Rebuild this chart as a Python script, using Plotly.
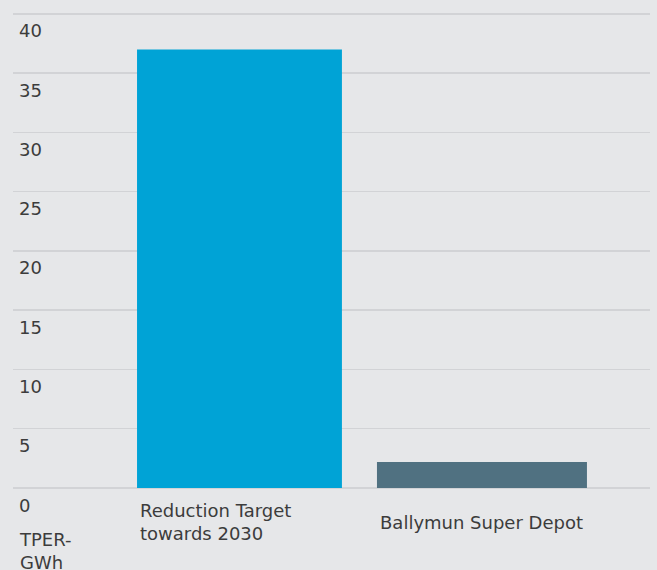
import plotly.graph_objects as go

categories = ["Reduction Target towards 2030", "Ballymun Super Depot"]
category_labels = ["Reduction Target<br>towards 2030", "Ballymun Super Depot"]
values = [37.0, 2.2]
bar_colors = ["#00a3d6", "#507181"]
y_ticks = [0, 5, 10, 15, 20, 25, 30, 35, 40]
y_title = "TPER-<br>GWh"

FONT = "DejaVu Sans"
TXT = "#3c3c3c"
BG = "#e6e7e9"
PX_PER_CAT = 242.5
bar_widths = [0.845, 0.866]

fig = go.Figure()
fig.add_trace(go.Bar(
    x=categories, y=values, marker=dict(color=bar_colors, line=dict(width=0)),
    width=bar_widths, hoverinfo="skip",
))

annotations = []
for t in y_ticks:
    annotations.append(dict(
        x=0, xref="paper", y=t, yref="y", text=str(t), showarrow=False,
        xanchor="left", yanchor="middle", xshift=4, yshift=-17,
        font=dict(family=FONT, size=18, color=TXT),
    ))
for c, lab, w in zip(categories, category_labels, bar_widths):
    annotations.append(dict(
        x=c, xref="x", y=0, yref="paper", text=lab, showarrow=False,
        xanchor="left", yanchor="middle", align="left",
        xshift=-w * PX_PER_CAT / 2 + 1, yshift=-34,
        font=dict(family=FONT, size=18, color=TXT),
    ))
annotations.append(dict(
    x=0, xref="paper", y=0, yref="paper", text=y_title, showarrow=False,
    xanchor="left", yanchor="middle", align="left", xshift=4, yshift=-63,
    font=dict(family=FONT, size=18, color=TXT),
))

fig.update_layout(
    width=657, height=570,
    margin=dict(l=13, r=7, t=8, b=82),
    paper_bgcolor=BG, plot_bgcolor=BG,
    showlegend=False,
    annotations=annotations,
    xaxis=dict(type="category", range=[-0.934, 1.693], showticklabels=False,
               showgrid=False, zeroline=False, showline=False, ticks=""),
    yaxis=dict(range=[0, 40.5], tickvals=y_ticks, showticklabels=False,
               showgrid=True, gridcolor="#d2d3d6", gridwidth=1.5,
               zeroline=True, zerolinecolor="#d2d3d6", zerolinewidth=1.5,
               showline=False, ticks=""),
)

fig.write_html(
    "out.html",
    config={"displayModeBar": False, "staticPlot": True},
    post_script="document.body.style.margin='0';document.body.style.background='#e6e7e9';",
)
